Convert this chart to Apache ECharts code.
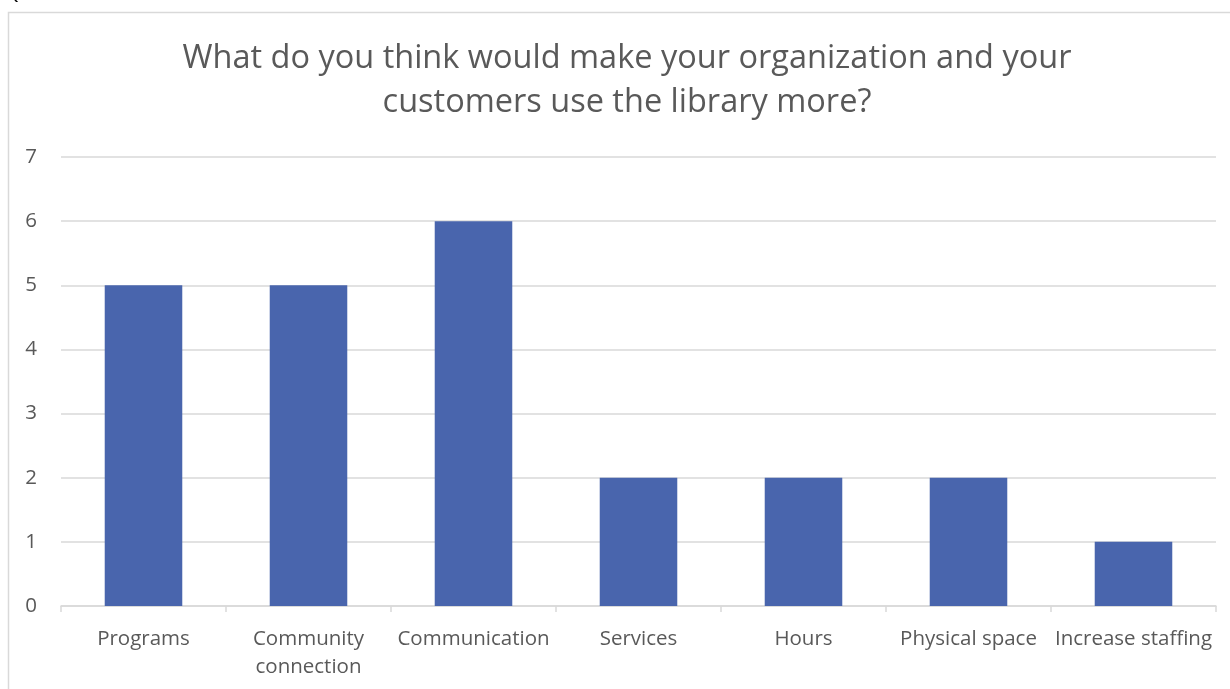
<!DOCTYPE html>
<html>
<head>
<meta charset="utf-8">
<script src="https://cdn.jsdelivr.net/npm/echarts@6/dist/echarts.min.js"></script>
<style>
  html, body { margin: 0; padding: 0; background: #fff; }
  #chart { width: 1230px; height: 689px; }
</style>
</head>
<body>
<div id="chart"></div>
<script>
// Survey answers and their counts
const categories = ['Programs', 'Community\nconnection', 'Communication', 'Services', 'Hours', 'Physical space', 'Increase staffing'];
const counts = [5, 5, 6, 2, 2, 2, 1];
const yTicks = { min: 0, max: 7, interval: 1 };
const titleText = 'What do you think would make your organization and your\ncustomers use the library more?';

const FONT = 'Open Sans';
const TEXT = '#595959';
const GRID = '#d9d9d9';

const chart = echarts.init(document.getElementById('chart'));
chart.setOption({
  animation: false,
  textStyle: { fontFamily: FONT },
  graphic: [
    {
      type: 'rect',
      shape: { x: 8.5, y: 12.5, width: 1240, height: 700 },
      style: { fill: 'none', stroke: GRID, lineWidth: 1.5 },
      silent: true
    },
    {
      type: 'text',
      x: 6,
      y: -15,
      style: { text: 'Question 1', fontFamily: FONT, fontSize: 18, fill: '#000' }
    },
    {
      type: 'text',
      x: 627,
      y: 37,
      style: {
        text: titleText,
        fontFamily: FONT,
        fontSize: 32.5,
        lineHeight: 44,
        fill: TEXT,
        align: 'center',
        verticalAlign: 'top'
      }
    }
  ],
  grid: { left: 61, right: 14, top: 157, bottom: 83 },
  xAxis: {
    type: 'category',
    data: categories,
    axisLine: { lineStyle: { color: GRID, width: 1.5 } },
    axisTick: { show: true, length: 6, lineStyle: { color: GRID, width: 1.5 } },
    axisLabel: { color: TEXT, fontSize: 20.5, fontFamily: FONT, margin: 19, lineHeight: 28, interval: 0 }
  },
  yAxis: {
    type: 'value',
    min: yTicks.min,
    max: yTicks.max,
    interval: yTicks.interval,
    axisLine: { show: false },
    axisTick: { show: false },
    axisLabel: { color: TEXT, fontSize: 20.5, fontFamily: FONT, margin: 24 },
    splitLine: { lineStyle: { color: GRID, width: 1.5 } }
  },
  series: [{
    type: 'bar',
    data: counts,
    barWidth: '47%',
    itemStyle: { color: '#4965ad' }
  }]
});
</script>
</body>
</html>
